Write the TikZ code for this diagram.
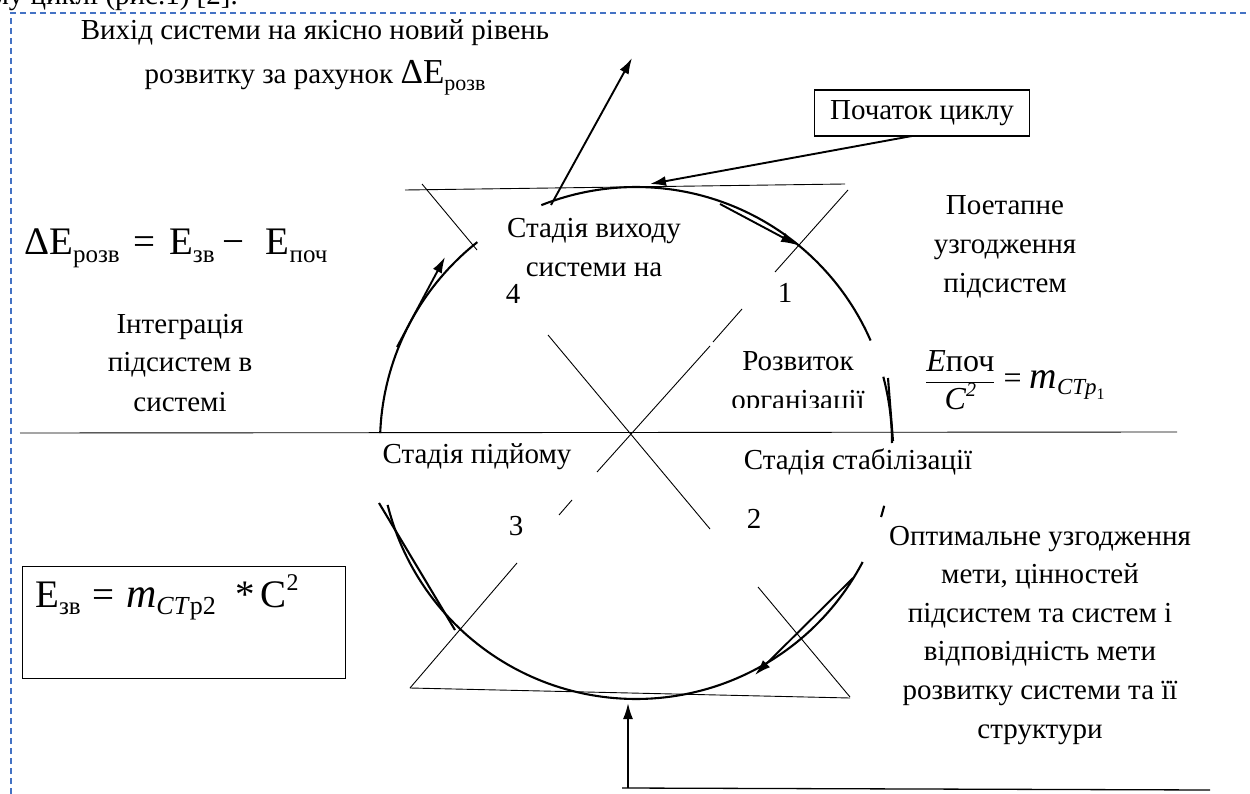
\documentclass[tikz,border=0pt]{standalone}
\usepackage{fontspec}
\setmainfont{Liberation Serif}
\usetikzlibrary{arrows.meta}
\definecolor{brd}{RGB}{68,114,196}
\newcommand{\lsub}[2][22]{\raisebox{-0.2em}{\fontsize{#1}{#1}\selectfont #2}}
\newcommand{\lsup}[2][22]{\raisebox{0.42em}{\fontsize{#1}{#1}\selectfont #2}}
\newcommand{\mlines}[1]{\begin{tabular}[t]{@{}c@{}}#1\end{tabular}}
\begin{document}
\begin{tikzpicture}[x=1pt,y=-1pt,
  txt/.style={font=\fontsize{29}{39}\selectfont, inner sep=0pt},
  fml/.style={font=\fontsize{39}{39}\selectfont, inner sep=0pt},
  ring/.style={line width=2.1pt},
  thin/.style={line width=0.9pt},
  arr/.style={line width=1.9pt, -{Latex[length=16pt,width=10pt]}},
  frm/.style={draw, line width=1.2pt},
  border/.style={draw=brd, line width=1.3pt, dash pattern=on 6pt off 4pt}]
\useasboundingbox (0,0) rectangle (1250,794);
% page frame (dashed)
\draw[border] (11,794) -- (11,13) -- (1250,13);
\node[txt, anchor=base east] (prev) at (238,5) {иттєвому циклі (рис.1) [2].};

% hourglass frame
\draw[thin] (405,190) -- (845,184);
\draw[thin] (422,184) -- (477,250);
\draw[thin] (548,335) -- (710,529);
\draw[thin] (758,587) -- (850,697);
\draw[thin] (848,190) -- (775,272);
\draw[thin] (742,309) -- (713,342);
\draw[thin] (710,346) -- (597,472);
\draw[thin] (572,500) -- (559,515);
\draw[thin] (517,563) -- (410,688);
\draw[thin] (410,688) -- (850,698);
\draw[thin] (20,433) -- (1177,432);
\draw[line width=1.3pt] (622,788) -- (1210,790);

% cycle ring (pieces)
\draw[ring] plot[domain=-111.7:-23.6, samples=80] ({636+256*cos(\x)},{443+256*sin(\x)});
\draw[ring] plot[domain=-15:0, samples=20] ({636+256*cos(\x)},{443+256*sin(\x)});
\draw[ring] (888,378) -- (893,441);
\draw[ring] plot[domain=14.2:16.8, samples=5] ({636+256*cos(\x)},{443+256*sin(\x)});
\draw[ring] plot[domain=27.7:166, samples=100] ({636+256*cos(\x)},{443+256*sin(\x)});
\draw[ring] (379,503) -- (455,630);
\draw[ring] plot[domain=182.2:231.7, samples=40] ({636+256*cos(\x)},{443+256*sin(\x)});

% texts
\node[txt, font=\fontsize{29}{44}\selectfont, anchor=base] (exit) at (315,40)
  {\mlines{Вихід системи на якісно новий рівень\\розвитку за рахунок {\fontsize{35}{35}\selectfont ΔE\lsub[22]{розв}}}};
\node[txt, draw, line width=1.2pt, minimum width=215pt, minimum height=46pt] (start) at (922,113) {Початок циклу};
\node[fml, anchor=base west] (f1) at (24,255)
  {ΔE\lsub[25]{розв}\hspace{.35em}=\hspace{.35em}E\lsub[25]{зв}\hspace{.2em}−\hspace{.55em}E\lsub[25]{поч}};
\node[txt, anchor=base] (st4) at (594,238) {\mlines{Стадія виходу\\системи на}};
\node[txt, anchor=base] (n4) at (513,304) {4};
\node[txt, anchor=base] (n1) at (785,302) {1};
\node[txt, anchor=base] (poet) at (1005,215) {\mlines{Поетапне\\узгодження\\підсистем}};
\node[txt, anchor=base] (integ) at (180,333) {\mlines{Інтеграція\\підсистем в\\системі}};
\begin{scope}
  \clip (700,330) rectangle (900,407);
  \node[txt, anchor=base] (rozv) at (798,370) {\mlines{Розвиток\\організації}};
\end{scope}
\node[anchor=base west, inner sep=0pt, font=\fontsize{32}{32}\selectfont] (frac) at (925,388)
  {$\displaystyle\frac{\mbox{\itshape E}\mbox{поч}}{\mbox{\itshape C\lsup[20]{2}}}$\hspace{.25em}=\hspace{.25em}{\fontsize{38}{38}\selectfont\textit{m}}\lsub[23]{\textit{CTp}\lsub[16]{1}}};
\node[txt, anchor=base] (pid) at (477,463) {Стадія підйому};
\node[txt, anchor=base] (stab) at (858,469) {Стадія стабілізації};
\node[txt, anchor=base] (n3) at (516,535) {3};
\node[txt, anchor=base] (n2) at (754,528) {2};
\node[txt, font=\fontsize{29}{38.6}\selectfont, anchor=base] (opt) at (1040,545)
  {\mlines{Оптимальне узгодження\\мети, цінностей\\підсистем та систем і\\відповідність мети\\розвитку системи та її\\структури}};
\node[frm, anchor=north west, minimum width=323pt, minimum height=112pt, inner sep=0pt] (ebox) at (22,566) {};
\node[fml, anchor=base west] (f2) at (35,607)
  {E\lsub[25]{зв}\hspace{.3em}=\hspace{.3em}{\fontsize{42}{42}\selectfont\textit{m}}\lsub[26]{\textit{CT}p2}\hspace{.5em}*\hspace{.15em}C\lsup[24]{2}};

% arrows
\coordinate (a1s) at (720,204);  \coordinate (a1e) at (797,245);
\coordinate (a4s) at (397,347);  \coordinate (a4e) at (445,257);
\coordinate (a2s) at (853,578);  \coordinate (a2e) at (755,675);
\coordinate (exs) at (551,205);  \coordinate (exe) at (632,58);
\coordinate (sts) at (912,136);  \coordinate (ste) at (650,184);
\coordinate (bts) at (628,788);  \coordinate (bte) at (628,703);
\draw[arr] (a1s) -- (a1e);
\draw[arr] (a4s) -- (a4e);
\draw[arr] (a2s) -- (a2e);
\draw[arr] (exs) -- (exe);
\draw[arr] (sts) -- (ste);
\draw[arr] (bts) -- (bte);
\end{tikzpicture}
\end{document}
